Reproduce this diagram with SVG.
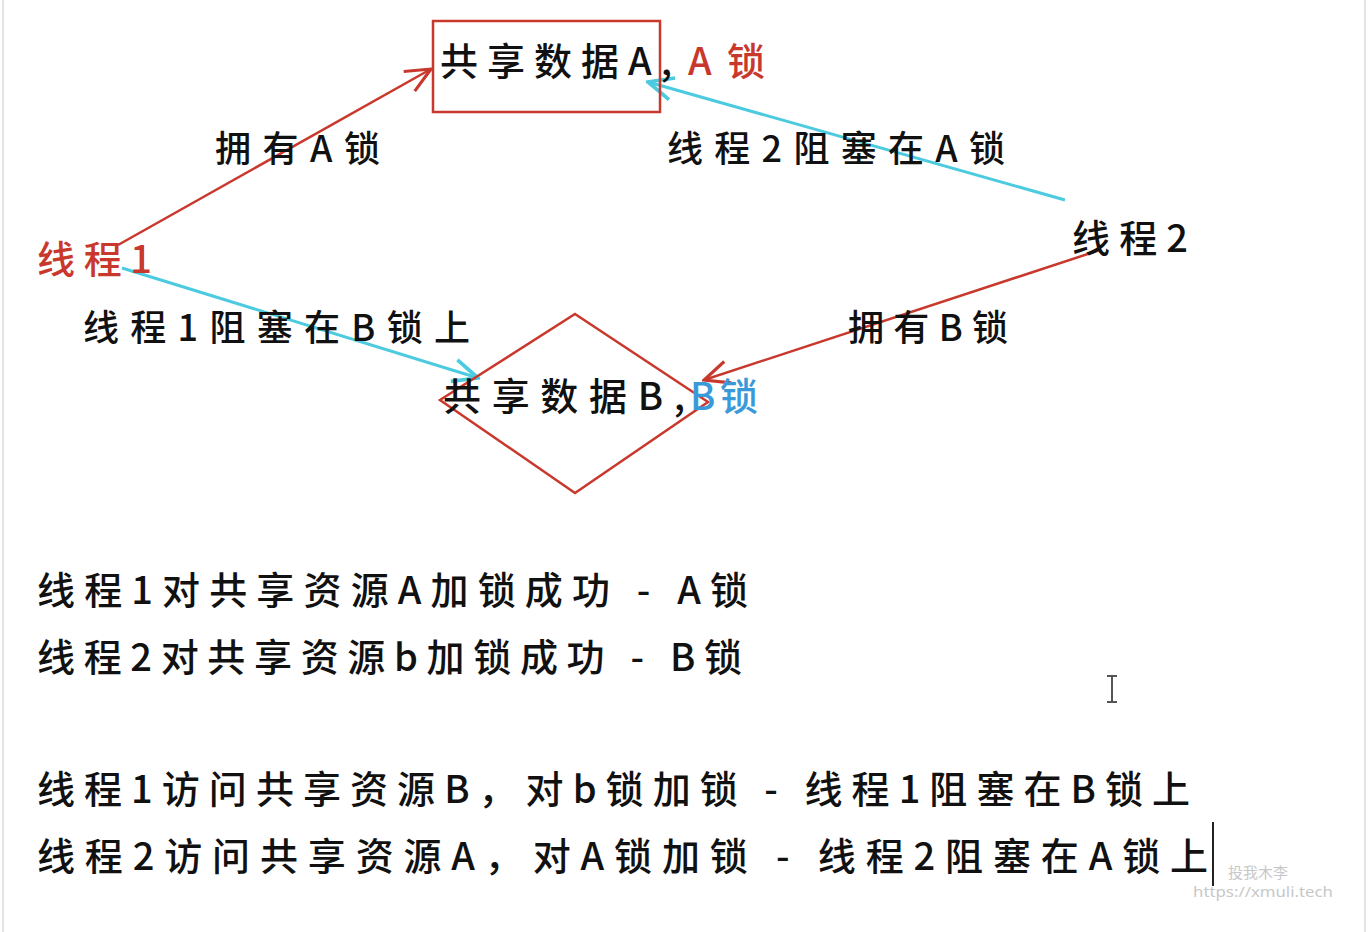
<svg xmlns="http://www.w3.org/2000/svg" width="1368" height="932" viewBox="0 0 1368 932">
<style>
text{font-family:"Noto Sans CJK SC","Noto Sans",sans-serif;fill:#111;font-weight:500;}
.t{font-size:38px;}
.m{font-size:36px;}
.red{fill:#c9382c;}
.blue{fill:#3a9ad9;}
.shape{fill:none;stroke:#c9382c;stroke-width:2.5;}
.rl{fill:none;stroke:#c9382c;stroke-width:2.5;}
.cl{fill:none;stroke:#4ccbe0;stroke-width:3;}
.wm{font-family:"Noto Sans","Noto Sans CJK SC",sans-serif;fill:#c8c8c8;font-size:15px;font-weight:400;}
</style>
<defs>
<marker id="ar" markerUnits="userSpaceOnUse" markerWidth="30" markerHeight="30" viewBox="0 0 24 24" refX="22" refY="12" orient="auto">
<path d="M2,3 L22,12 L2,21" fill="none" stroke="#c9382c" stroke-width="2.5"/>
</marker>
<marker id="ac" markerUnits="userSpaceOnUse" markerWidth="30" markerHeight="30" viewBox="0 0 24 24" refX="22" refY="12" orient="auto">
<path d="M2,3 L22,12 L2,21" fill="none" stroke="#4ccbe0" stroke-width="3"/>
</marker>
</defs>
<rect x="0" y="0" width="1368" height="932" fill="#ffffff"/>
<line x1="3" y1="0" x2="3" y2="932" stroke="#e4e4e8" stroke-width="2"/>
<line x1="1365" y1="0" x2="1365" y2="932" stroke="#e4e4e8" stroke-width="2"/>

<g id="connectors">
<line class="rl" x1="118" y1="245" x2="431" y2="69" marker-end="url(#ar)"/>
<line class="cl" x1="1065" y1="200" x2="648" y2="82" marker-end="url(#ac)"/>
<line class="cl" x1="122" y1="268" x2="478" y2="378" marker-end="url(#ac)"/>
<line class="rl" x1="1100" y1="250" x2="704" y2="380" marker-end="url(#ar)"/>
<text class="m" x="215" y="162" textLength="165" lengthAdjust="spacing">拥有A锁</text>
<text class="m" x="667" y="162" textLength="338" lengthAdjust="spacing">线程2阻塞在A锁</text>
<text class="m" x="83" y="341" textLength="387" lengthAdjust="spacing">线程1阻塞在B锁上</text>
<text class="m" x="848" y="341" textLength="160" lengthAdjust="spacing">拥有B锁</text>
</g>

<g id="nodeA">
<rect class="shape" x="433" y="21" width="227" height="91"/>
<text class="t" x="440" y="75" textLength="232" lengthAdjust="spacing">共享数据A,</text>
<text class="t red" x="688" y="75" textLength="77" lengthAdjust="spacing">A锁</text>
</g>

<g id="nodeB">
<polygon class="shape" points="575,314 708,402 575,493 440,400"/>
<text class="t" x="443" y="410" textLength="242" lengthAdjust="spacing">共享数据B,</text>
<text class="t blue" x="690" y="410" textLength="68" lengthAdjust="spacing">B锁</text>
</g>

<g id="thread1">
<text class="t red" x="37" y="273" textLength="115" lengthAdjust="spacing">线程1</text>
</g>

<g id="thread2">
<text class="t" x="1072" y="252" textLength="116" lengthAdjust="spacing">线程2</text>
</g>

<g id="notes">
<text class="t" x="37" y="604" textLength="711" lengthAdjust="spacing">线程1对共享资源A加锁成功 - A锁</text>
<text class="t" x="37" y="671" textLength="705" lengthAdjust="spacing">线程2对共享资源b加锁成功 - B锁</text>
<text class="t" x="37" y="803" textLength="1153" lengthAdjust="spacing">线程1访问共享资源B，对b锁加锁 - 线程1阻塞在B锁上</text>
<text class="t" x="37" y="870" textLength="1171" lengthAdjust="spacing">线程2访问共享资源A，对A锁加锁 - 线程2阻塞在A锁上</text>
<line x1="1213" y1="822" x2="1213" y2="886" stroke="#222" stroke-width="2"/>
<path d="M1107,676 H1117 M1112,676 V702 M1107,702 H1117" fill="none" stroke="#555" stroke-width="2"/>
</g>

<g id="watermark">
<text class="wm" x="1228" y="878">投我木李</text>
<text class="wm" x="1193" y="897" textLength="140" lengthAdjust="spacingAndGlyphs">https://xmuli.tech</text>
</g>
</svg>
